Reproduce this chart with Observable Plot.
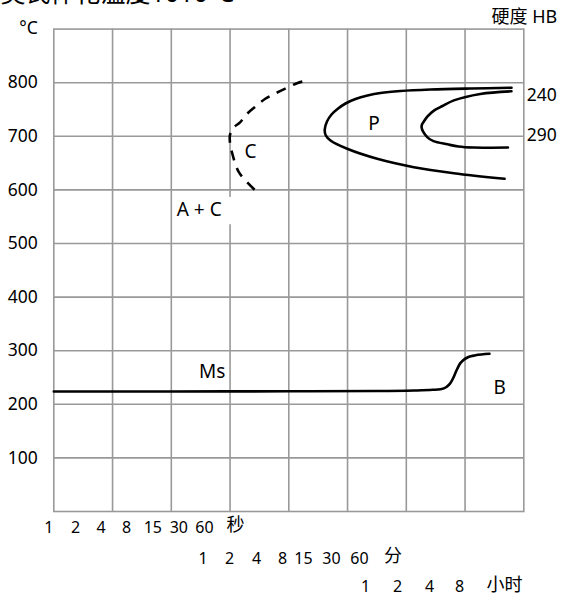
<!DOCTYPE html>
<html><head><meta charset="utf-8">
<script src="https://cdn.jsdelivr.net/npm/d3@7"></script>
<script src="https://cdn.jsdelivr.net/npm/@observablehq/plot@0.6"></script>
<style>body{margin:0;background:#fff}</style>
</head><body><div id="chart"></div>
<script>
// ---- text ----
const title = "奥氏体化温度1010°C";
const yUnit = "°C";
const hbTitle = "硬度 HB";

// ---- axes (x is measured in grid columns of the schematic time axis) ----
const tempTicks = [100, 200, 300, 400, 500, 600, 700, 800];
const gridCols = [1, 2, 3, 4, 5, 6, 7];

const secLabels = ["1", "2", "4", "8", "15", "30", "60"];
const secPos = [-0.085, 0.369, 0.803, 1.237, 1.685, 2.128, 2.565];
const secUnit = ["秒", 3.093];

const minLabels = ["1", "2", "4", "8", "15", "30", "60"];
const minPos = [2.543, 2.991, 3.451, 3.893, 4.25, 4.727, 5.203];
const minUnit = ["分", 5.774];

const hourLabels = ["1", "2", "4", "8"];
const hourPos = [5.306, 5.851, 6.395, 6.906];
const hourUnit = ["小时", 7.671];

// hardness values at the right edge
const hbLabels = ["240", "290"];
const hbTemps = [776, 701];

// ---- curves: [grid position, °C] ----
const cCurve = [[4.23,802],[4.14,799],[3.94,789],[3.77,780],[3.60,770],[3.45,757],[3.29,742],[3.17,726],[3.06,716],[3.0,703],[2.995,694],[3.01,680],[3.04,667],[3.08,652],[3.15,633],[3.25,619],[3.42,600]];
const pOuter = [[7.791,790.5],[7.093,789.2],[6.412,787.3],[5.901,784.5],[5.561,780.8],[5.340,776.1],[5.135,769.6],[4.965,761.2],[4.829,750.9],[4.727,740.7],[4.650,727.6],[4.612,713],[4.628,702],[4.71,692.2],[4.994,676.7],[5.505,658],[6.128,642.4],[6.809,631.2],[7.672,620.7]];
const pInner = [[7.79,784],[7.26,779],[6.81,767],[6.616,756.5],[6.47,748],[6.361,737],[6.29,726],[6.267,722],[6.26,717],[6.284,709],[6.36,698],[6.463,691],[6.70,685],[6.888,681],[7.15,679],[7.73,679]];
const msLine = [[0,224],[2,224],[4,224.3],[5.5,224.8],[6.13,225.7],[6.45,227],[6.582,228.2],[6.684,232.3],[6.752,239.7],[6.803,250],[6.854,263],[6.905,274.3],[6.973,282.6],[7.058,288.2],[7.177,291.4],[7.416,294.2]];

// ---- region labels ----
const regionLabels = [
  {text: "P", x: 5.45, y: 723},
  {text: "C", x: 3.35, y: 670},
  {text: "A + C", x: 2.475, y: 563},
  {text: "Ms", x: 2.696, y: 260},
  {text: "B", x: 7.59, y: 231}
];
const acBox = {x1: 2.3, x2: 3.06, y1: 535, y2: 586};

const font = "'Noto Sans', 'Noto Sans CJK SC', sans-serif";
const gridStyle = {stroke: "#999", strokeWidth: 1.6, strokeOpacity: 1};
const curveStyle = {x: d => d[0], y: d => d[1], stroke: "black", strokeWidth: 2.6, curve: "catmull-rom", strokeLinecap: "round"};

const chart = Plot.plot({
  width: 582,
  height: 601,
  marginLeft: 53.3,
  marginRight: 58.7,
  marginTop: 28.6,
  marginBottom: 90,
  x: {domain: [0, 8], axis: null},
  y: {domain: [0, 900]},
  style: {fontFamily: font, fontSize: "17px", color: "black", background: "white"},
  marks: [
    Plot.ruleX(gridCols, gridStyle),
    Plot.ruleY(tempTicks, gridStyle),
    Plot.frame(gridStyle),
    Plot.rect([acBox], {x1: "x1", x2: "x2", y1: "y1", y2: "y2", fill: "white"}),
    Plot.line(cCurve, {...curveStyle, strokeDasharray: "10,8", strokeLinecap: "butt"}),
    Plot.line(pOuter, curveStyle),
    Plot.line(pInner, curveStyle),
    Plot.line(msLine, {...curveStyle, curve: "monotone-x"}),
    Plot.text(regionLabels, {x: "x", y: "y", text: "text", fontSize: 19, fill: "black"}),
    Plot.axisY(tempTicks, {tickSize: 0, tickPadding: 16, fontSize: 17.5, label: null, fill: "black"}),
    Plot.text([yUnit], {text: d => d, frameAnchor: "top-left", textAnchor: "end", lineAnchor: "bottom", dx: -16, dy: 4.7, fontSize: 17.5}),
    Plot.text([hbTitle], {text: d => d, frameAnchor: "top-right", textAnchor: "end", lineAnchor: "bottom", dx: 33.4, dy: -5.9, fontSize: 18}),
    Plot.text(hbLabels, {text: d => d, x: 8, y: (d, i) => hbTemps[i], textAnchor: "start", dx: 3, fontSize: 17.5}),
    Plot.text([title], {text: d => d, frameAnchor: "top-left", textAnchor: "start", lineAnchor: "bottom", dx: -53.3, dy: -26.8, fontSize: 25}),
    // time axis rows
    Plot.text(secLabels, {text: d => d, x: (d, i) => secPos[i], frameAnchor: "bottom", lineAnchor: "bottom", dy: 21.7, fontSize: 16}),
    Plot.text([secUnit], {text: d => d[0], x: d => d[1], frameAnchor: "bottom", lineAnchor: "bottom", dy: 19.5, fontSize: 18}),
    Plot.text(minLabels, {text: d => d, x: (d, i) => minPos[i], frameAnchor: "bottom", lineAnchor: "bottom", dy: 52, fontSize: 16}),
    Plot.text([minUnit], {text: d => d[0], x: d => d[1], frameAnchor: "bottom", lineAnchor: "bottom", dy: 50, fontSize: 18}),
    Plot.text(hourLabels, {text: d => d, x: (d, i) => hourPos[i], frameAnchor: "bottom", lineAnchor: "bottom", dy: 80.7, fontSize: 16}),
    Plot.text([hourUnit], {text: d => d[0], x: d => d[1], frameAnchor: "bottom", lineAnchor: "bottom", dy: 79, fontSize: 18})
  ]
});
document.getElementById("chart").appendChild(chart);
</script>
</body></html>
